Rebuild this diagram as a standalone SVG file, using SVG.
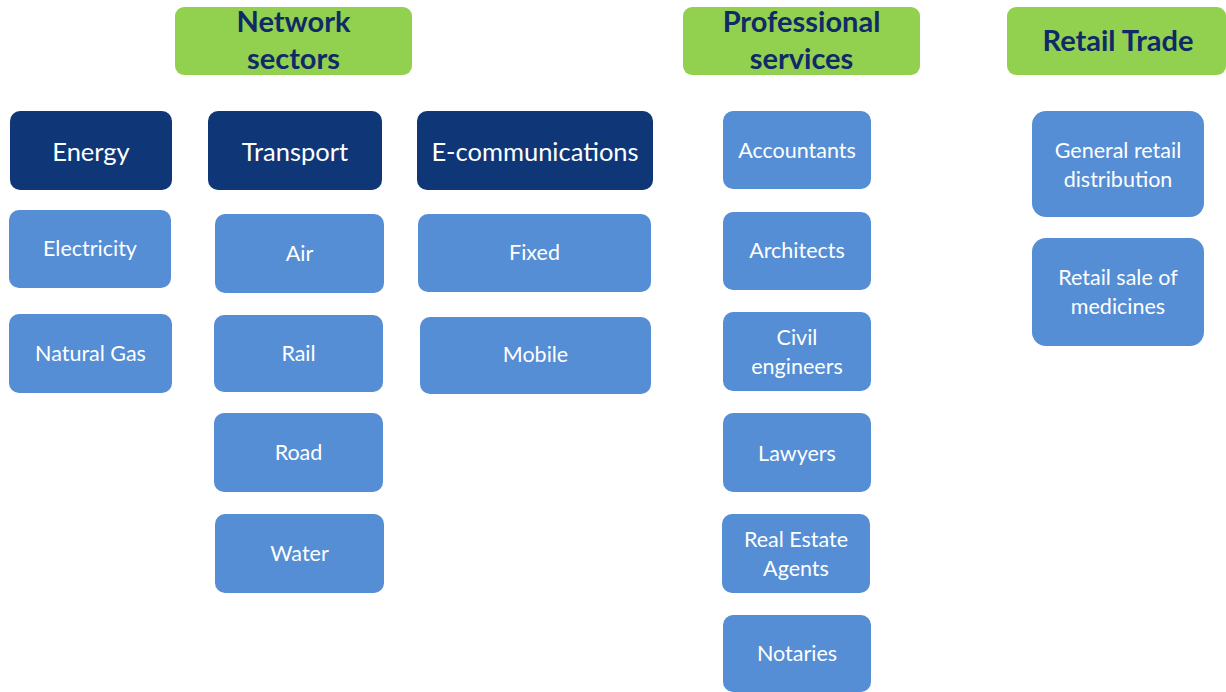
<svg xmlns="http://www.w3.org/2000/svg" width="1226" height="692" viewBox="0 0 1226 692">
<style>
.h rect{fill:#92D050;}
.h text{fill:#0F2A66;font-family:Lato,"Liberation Sans",sans-serif;font-weight:bold;font-size:29px;text-anchor:middle;}
.d rect{fill:#0F3778;}
.d text{fill:#fff;font-family:Lato,"Liberation Sans",sans-serif;font-size:25.5px;text-anchor:middle;}
.n rect{fill:#558ED5;}
.n text{fill:#fff;font-family:Lato,"Liberation Sans",sans-serif;font-size:21.5px;text-anchor:middle;}
</style>
<rect width="1226" height="692" fill="#fff"/>
<g class="h" id="network-sectors"><rect x="175" y="7" width="237" height="68" rx="9"/><text x="293.5" y="32">Network</text><text x="293.5" y="69">sectors</text></g>
<g class="h" id="professional-services"><rect x="683" y="7" width="237" height="68" rx="9"/><text x="801.5" y="32">Professional</text><text x="801.5" y="69">services</text></g>
<g class="h" id="retail-trade"><rect x="1007" y="7" width="219" height="68" rx="9"/><text x="1118" y="51">Retail Trade</text></g>

<g class="d" id="energy"><rect x="10" y="111" width="162" height="79" rx="10"/><text x="91" y="161">Energy</text></g>
<g class="d" id="transport"><rect x="208" y="111" width="174" height="79" rx="10"/><text x="295" y="161">Transport</text></g>
<g class="d" id="e-communications"><rect x="417" y="111" width="236" height="79" rx="10"/><text x="535" y="161">E-communications</text></g>

<g class="n" id="electricity"><rect x="9" y="210" width="162" height="78" rx="10"/><text x="90" y="256">Electricity</text></g>
<g class="n" id="natural-gas"><rect x="9" y="314" width="163" height="79" rx="10"/><text x="90.5" y="361">Natural Gas</text></g>
<g class="n" id="air"><rect x="215" y="214" width="169" height="79" rx="10"/><text x="299.5" y="261">Air</text></g>
<g class="n" id="rail"><rect x="214" y="315" width="169" height="77" rx="10"/><text x="298.5" y="361">Rail</text></g>
<g class="n" id="road"><rect x="214" y="413" width="169" height="79" rx="10"/><text x="298.5" y="460">Road</text></g>
<g class="n" id="water"><rect x="215" y="514" width="169" height="79" rx="10"/><text x="299.5" y="561">Water</text></g>
<g class="n" id="fixed"><rect x="418" y="214" width="233" height="78" rx="10"/><text x="534.5" y="260">Fixed</text></g>
<g class="n" id="mobile"><rect x="420" y="317" width="231" height="77" rx="10"/><text x="535.5" y="362">Mobile</text></g>

<g class="n" id="accountants"><rect x="723" y="111" width="148" height="78" rx="10"/><text x="797" y="158">Accountants</text></g>
<g class="n" id="architects"><rect x="723" y="212" width="148" height="78" rx="10"/><text x="797" y="258">Architects</text></g>
<g class="n" id="civil-engineers"><rect x="723" y="312" width="148" height="79" rx="10"/><text x="797" y="345">Civil</text><text x="797" y="374">engineers</text></g>
<g class="n" id="lawyers"><rect x="723" y="413" width="148" height="79" rx="10"/><text x="797" y="461">Lawyers</text></g>
<g class="n" id="real-estate-agents"><rect x="722" y="514" width="148" height="79" rx="10"/><text x="796" y="547">Real Estate</text><text x="796" y="576">Agents</text></g>
<g class="n" id="notaries"><rect x="723" y="615" width="148" height="77" rx="10"/><text x="797" y="661">Notaries</text></g>

<g class="n" id="general-retail-distribution"><rect x="1032" y="111" width="172" height="106" rx="14"/><text x="1118" y="158">General retail</text><text x="1118" y="187">distribution</text></g>
<g class="n" id="retail-sale-of-medicines"><rect x="1032" y="238" width="172" height="108" rx="14"/><text x="1118" y="285">Retail sale of</text><text x="1118" y="314">medicines</text></g>
<g id="connectors"/>
</svg>
